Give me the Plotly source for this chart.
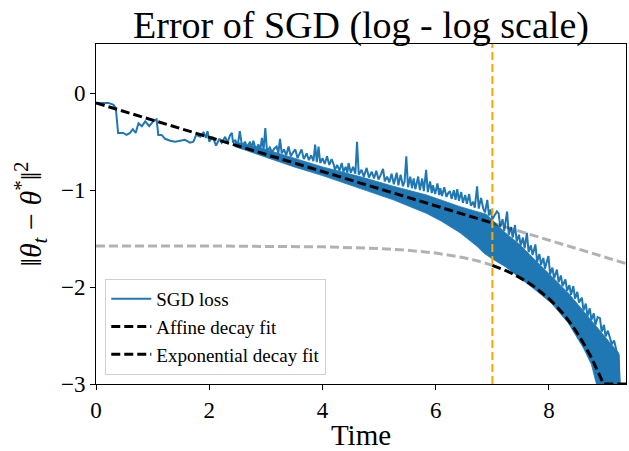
import plotly.graph_objects as go

# ---------------- data ----------------
sgd_time = [0.00, 0.22, 0.31, 0.35, 0.39, 0.48, 0.54, 0.60, 0.65, 0.70, 0.75, 0.81, 0.87, 0.94,
            1.01, 1.07, 1.10, 1.16, 1.22, 1.31, 1.40, 1.48, 1.57, 1.66, 1.72, 1.77, 1.84, 1.90,
            1.94, 1.97, 2.00, 2.06, 2.12, 2.18, 2.22, 2.28, 2.32, 2.37, 2.40, 2.42, 2.46,
            2.50, 2.54, 2.58, 2.63, 2.67, 2.72, 2.75, 2.78, 2.82, 2.87, 2.90, 2.93, 2.96, 2.99,
            3.02, 3.07, 3.11, 3.15, 3.19, 3.22, 3.25, 3.28, 3.32, 3.36, 3.40, 3.44, 3.48, 3.52,
            3.56, 3.60, 3.63, 3.67, 3.72, 3.76, 3.80, 3.84, 3.87, 3.90, 3.93, 3.96, 4.00, 4.04,
            4.08, 4.12, 4.16, 4.19, 4.22, 4.26, 4.30, 4.34, 4.37, 4.41, 4.44, 4.46, 4.50, 4.54,
            4.58, 4.61, 4.64, 4.69, 4.73, 4.78, 4.82, 4.87, 4.91, 4.95, 4.99, 5.03, 5.07, 5.10,
            5.14, 5.18, 5.22, 5.26, 5.31, 5.34, 5.38, 5.42, 5.45, 5.48, 5.51, 5.55, 5.58, 5.61,
            5.64, 5.69, 5.72, 5.76, 5.79, 5.83, 5.86, 5.90, 5.93, 5.95, 5.99, 6.03, 6.06, 6.08,
            6.11, 6.15, 6.19, 6.22, 6.25, 6.28, 6.32, 6.35, 6.38, 6.41, 6.45, 6.48, 6.52, 6.55,
            6.59, 6.62, 6.66, 6.69, 6.73, 6.76, 6.80, 6.84, 6.87, 6.91, 6.94, 6.97, 7.00, 7.04,
            7.08, 7.11, 7.14, 7.18, 7.21, 7.26, 7.29, 7.33, 7.36, 7.40, 7.43, 7.47, 7.50, 7.54,
            7.57, 7.61, 7.64, 7.68, 7.71, 7.76, 7.79, 7.83, 7.86, 7.90, 7.93, 7.96, 7.99, 8.02,
            8.06, 8.09, 8.14, 8.17, 8.21, 8.24, 8.29, 8.32, 8.36, 8.39, 8.43, 8.46, 8.50, 8.53,
            8.58, 8.61, 8.65, 8.68, 8.72, 8.75, 8.79, 8.82, 8.86, 8.90, 8.93, 8.97, 9.00, 9.04,
            9.08, 9.11, 9.15, 9.18, 9.20, 9.23, 9.25]
sgd_log_err = [-0.10, -0.10, -0.12, -0.155, -0.41, -0.41, -0.43, -0.41, -0.37, -0.41, -0.31, -0.34, -0.29, -0.34,
               -0.29, -0.27, -0.43, -0.43, -0.47, -0.49, -0.50, -0.49, -0.48, -0.51, -0.50, -0.43, -0.45, -0.40,
               -0.46, -0.39, -0.50, -0.45, -0.54, -0.47, -0.51, -0.45, -0.51, -0.43, -0.41, -0.51, -0.48,
               -0.55, -0.39, -0.55, -0.50, -0.56, -0.50, -0.57, -0.49, -0.58, -0.53, -0.59, -0.46, -0.58, -0.36,
               -0.60, -0.56, -0.61, -0.57, -0.55, -0.62, -0.47, -0.62, -0.58, -0.64, -0.55, -0.65, -0.61, -0.58,
               -0.67, -0.62, -0.58, -0.68, -0.62, -0.69, -0.64, -0.70, -0.53, -0.71, -0.55, -0.72, -0.67, -0.73,
               -0.65, -0.74, -0.68, -0.72, -0.79, -0.74, -0.80, -0.72, -0.81, -0.76, -0.82, -0.72, -0.82, -0.76,
               -0.83, -0.50, -0.84, -0.79, -0.86, -0.77, -0.87, -0.81, -0.88, -0.80, -0.89, -0.84, -0.78, -0.91,
               -0.86, -0.92, -0.83, -0.94, -0.82, -0.95, -0.84, -0.96, -0.91, -0.65, -0.97, -0.86, -0.98, -0.88,
               -0.99, -0.86, -1.00, -0.88, -1.01, -0.79, -1.02, -0.91, -1.03, -0.95, -1.04, -0.93, -1.05, -0.98,
               -1.06, -0.97, -1.07, -1.03, -1.01, -1.09, -1.00, -1.10, -0.99, -1.11, -1.02, -1.13, -1.05, -1.14,
               -1.04, -1.16, -1.12, -1.18, -0.96, -1.19, -1.08, -1.19, -1.23, -1.10, -1.26, -1.20, -1.30, -1.26,
               -1.22, -1.24, -1.38, -1.30, -1.42, -1.22, -1.46, -1.38, -1.49, -1.36, -1.53, -1.46, -1.57, -1.49,
               -1.60, -1.44, -1.64, -1.57, -1.67, -1.56, -1.74, -1.66, -1.77, -1.70, -1.81, -1.74, -1.68, -1.87,
               -1.80, -1.91, -1.82, -1.95, -1.88, -1.99, -1.92, -2.04, -1.98, -2.08, -1.99, -2.12, -2.05, -2.16,
               -2.11, -2.24, -2.17, -2.30, -2.22, -2.34, -2.27, -2.39, -2.31, -2.32, -2.46, -2.39, -2.51, -2.45,
               -2.54, -2.59, -2.55, -2.65, -2.68, -2.70, -3.05]

# dense oscillation band of the SGD loss (upper and lower envelopes)
band_upper_time = [2.45, 3.0, 3.5, 4.0, 4.66, 5.25, 5.84, 6.43, 6.90, 7.0, 7.23, 7.46, 7.76, 8.05, 8.34, 8.64, 8.93, 9.23, 9.26]
band_upper_err = [-0.50, -0.58, -0.67, -0.76, -0.86, -0.96, -1.05, -1.17, -1.25, -1.31, -1.44, -1.55, -1.72, -1.89, -2.06, -2.27, -2.47, -2.68, -3.05]
band_lower_time = [2.45, 3.0, 3.5, 4.0, 4.66, 5.25, 5.84, 6.10, 6.43, 6.60, 6.73, 6.85, 7.0, 7.23, 7.46, 7.76, 8.05, 8.34, 8.61, 8.75, 8.86, 9.26]
band_lower_err = [-0.55, -0.66, -0.76, -0.85, -0.98, -1.10, -1.24, -1.32, -1.44, -1.52, -1.58, -1.65, -1.71, -1.79, -1.89, -2.03, -2.17, -2.37, -2.63, -2.80, -3.05, -3.05]

# affine decay fit (straight line in log-log)
affine_time = [0.0, 7.0, 9.36]
affine_err = [-0.10, -1.339, -1.757]

# exponential decay fit
exp_time = [0.0, 2.0, 4.0, 5.0, 5.5, 6.0, 6.5, 6.75, 7.0, 7.125, 7.25, 7.375, 7.5, 7.625, 7.75, 7.875,
            8.0, 8.125, 8.25, 8.375, 8.5, 8.625, 8.75, 8.9, 8.96, 9.36]
exp_err = [-1.575, -1.576, -1.585, -1.602, -1.620, -1.649, -1.697, -1.731, -1.776, -1.802, -1.833, -1.867,
           -1.906, -1.950, -2.000, -2.056, -2.120, -2.193, -2.275, -2.369, -2.474, -2.594, -2.730, -2.917,
           -3.0, -3.0]

split_time = 7.0
x_range = [0, 9.36]
y_range = [-3, 0.508]
x_ticks = [0, 2, 4, 6, 8]
y_ticks = [0, -1, -2, -3]

# ---------------- figure ----------------
BLUE = "#1f77b4"
GRAY = "rgba(0,0,0,0.30)"
FONT = "Liberation Serif"

fig = go.Figure()

band_x = band_upper_time + band_lower_time[::-1]
band_y = band_upper_err + band_lower_err[::-1]
fig.add_trace(go.Scatter(x=band_x, y=band_y, mode="lines", fill="toself", fillcolor=BLUE,
                         line=dict(color=BLUE, width=0.8), showlegend=False, hoverinfo="skip"))
fig.add_trace(go.Scatter(x=sgd_time, y=sgd_log_err, mode="lines", name="SGD loss",
                         line=dict(color=BLUE, width=2)))

i_split_a = affine_time.index(split_time)
i_split_e = exp_time.index(split_time)

fig.add_trace(go.Scatter(x=affine_time[:i_split_a + 1], y=affine_err[:i_split_a + 1], mode="lines",
                         name="Affine decay fit", line=dict(color="black", width=3, dash="9px,4px")))
fig.add_trace(go.Scatter(x=exp_time[i_split_e:], y=exp_err[i_split_e:], mode="lines",
                         name="Exponential decay fit", line=dict(color="black", width=3, dash="9px,4px")))
fig.add_trace(go.Scatter(x=affine_time[i_split_a:], y=affine_err[i_split_a:], mode="lines",
                         showlegend=False, line=dict(color=GRAY, width=3, dash="9px,4px")))
fig.add_trace(go.Scatter(x=exp_time[:i_split_e + 1], y=exp_err[:i_split_e + 1], mode="lines",
                         showlegend=False, line=dict(color=GRAY, width=3, dash="9px,4px")))

fig.add_vline(x=split_time, line=dict(color="orange", width=2, dash="8px,4px"))

axis_common = dict(showline=True, linecolor="black", linewidth=1, mirror=True, ticks="outside",
                   ticklen=5, tickwidth=1, tickcolor="black", showgrid=False, zeroline=False,
                   tickfont=dict(family=FONT, size=23, color="black"))

fig.update_layout(
    width=629, height=451, autosize=False,
    margin=dict(l=96, r=3, t=44, b=67),
    plot_bgcolor="white", paper_bgcolor="white",
    title=dict(text="Error of SGD (log - log scale)", x=0.5, xref="paper", xanchor="center",
               y=1 - 25 / 451, yref="container", yanchor="middle",
               font=dict(family=FONT, size=38, color="black")),
    xaxis=dict(range=x_range, tickvals=x_ticks,
               title=dict(text="Time", font=dict(family=FONT, size=29, color="black"), standoff=6),
               **axis_common),
    yaxis=dict(range=y_range, tickvals=y_ticks,
               title=dict(text="‖<i>θ</i><sub><i>t</i></sub> − <i>θ</i><sup>*</sup>‖<sup>2</sup>",
                          font=dict(family=FONT, size=30, color="black"), standoff=10),
               **axis_common),
    legend=dict(x=0.0175, y=0.0265, xanchor="left", yanchor="bottom",
                bgcolor="rgba(255,255,255,0.85)", bordercolor="#d0d0d0", borderwidth=1,
                font=dict(family=FONT, size=19, color="black"), tracegroupgap=0, itemwidth=40),
    showlegend=True,
)

fig.write_html("out.html")
